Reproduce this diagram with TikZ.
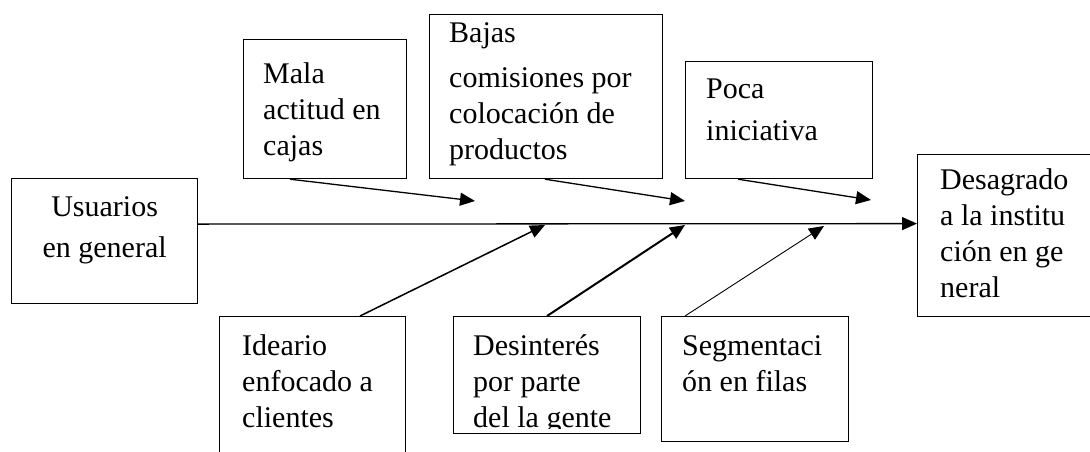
\documentclass[tikz,border=0pt]{standalone}
\usepackage{fontspec}
\setmainfont{Liberation Serif}
\usetikzlibrary{arrows.meta,calc}

\begin{document}
\begin{tikzpicture}[x = 1pt, y = -1pt,
caja/.style = {draw, line width = 1.2pt, anchor = north west, inner sep = 0pt},
texto/.style = {anchor = base west, inner sep = 0pt, align = left, font = \fontsize{30}{36}\selectfont},
flecha/.style = {line width = 1.3pt, -{Triangle[length = 15pt, width = 13pt]}}
]
\useasboundingbox (0,0) rectangle (1090,451);

% cajas de arriba (causas)
\node[caja, minimum width = 163pt, minimum height = 139pt] (mala) at (243,39) {};
\node[caja, minimum width = 233pt, minimum height = 164pt] (bajas) at (429,14) {};
\node[caja, minimum width = 187pt, minimum height = 117pt] (poca) at (685,61) {};
% cabeza y cola
\node[caja, minimum width = 186pt, minimum height = 125pt] (usuarios) at (11,178) {};
\node[caja, minimum width = 180pt, minimum height = 162pt] (desagrado) at (917,154) {};
% cajas de abajo
\node[caja, minimum width = 186pt, minimum height = 170pt] (ideario) at (219,316) {};
\node[caja, minimum width = 187pt, minimum height = 117pt] (desinteres) at (453,316) {};
\node[caja, minimum width = 187pt, minimum height = 125pt] (segmentacion) at (661,316) {};

% textos (el ancla base queda en la ultima linea)
\node[texto] (mala-t) at ([shift={(20,116)}]mala.north west) {Mala\\actitud en\\cajas};
\node[texto] (bajas-t) at ([shift={(20,145)}]bajas.north west) {Bajas\\[9pt]comisiones por\\colocación de\\productos};
\node[texto] (poca-t) at ([shift={(21,79)}]poca.north west) {Poca\\[6pt]iniciativa};
\node[texto, anchor = base, align = center] (usuarios-t) at ([shift={(0,79)}]usuarios.north) {Usuarios\\[5pt]en general};
\node[texto] (desagrado-t) at ([shift={(23,143)}]desagrado.north west) {Desagrado\\a la institu\\ción en ge\\neral};
\node[texto] (ideario-t) at ([shift={(23,111)}]ideario.north west) {Ideario\\enfocado a\\clientes};
\begin{scope}
	\clip (desinteres.north west) rectangle ([yshift = 6pt]desinteres.south east);
	\node[texto] (desinteres-t) at ([shift={(20,111)}]desinteres.north west) {Desinterés\\por parte\\del la gente};
\end{scope}
\node[texto] (segmentacion-t) at ([shift={(21,75)}]segmentacion.north west) {Segmentaci\\ón en filas};

% espina
\draw[flecha] ([yshift = 17pt]usuarios.east) -- ([yshift = 12pt]desagrado.west);

% puntas sobre la espina
\coordinate (t-mala) at (475,201);
\coordinate (t-bajas) at (685,201);
\coordinate (t-poca) at (871,200);
\coordinate (t-ideario) at (545,225);
\coordinate (t-desinteres) at (685,225);
\coordinate (t-segmentacion) at (824,226);

\draw[flecha] ([xshift = 47pt]mala.south west) -- (t-mala);
\draw[flecha] ([xshift = 116pt]bajas.south west) -- (t-bajas);
\draw[flecha] ([xshift = 53pt]poca.south west) -- (t-poca);
\draw[flecha, line width = 1.5pt] ([xshift = 141pt]ideario.north west) -- (t-ideario);
\draw[flecha, line width = 2pt] ([xshift = 94pt]desinteres.north west) -- (t-desinteres);
\draw[flecha, line width = 0.9pt] ([xshift = 24pt]segmentacion.north west) -- (t-segmentacion);
\end{tikzpicture}
\end{document}
